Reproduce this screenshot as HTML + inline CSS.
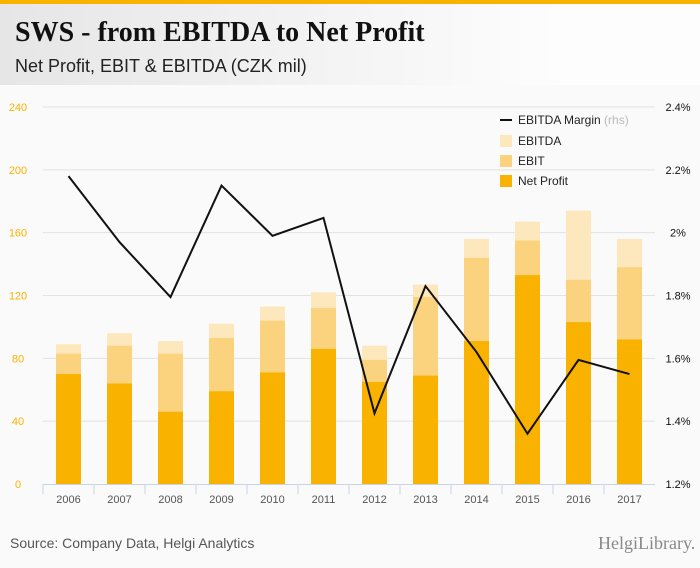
<!DOCTYPE html>
<html><head><meta charset="utf-8"><style>
body{margin:0;width:700px;height:568px;overflow:hidden;background:#fafafa;font-family:"Liberation Sans",sans-serif}
#hdr{position:absolute;left:0;top:0;width:700px;height:85px;background:linear-gradient(90deg,#e6e6e6,#fdfdfd 80%);border-top:4px solid #f9b200;box-sizing:border-box}
#title{position:absolute;left:15px;top:13px;font-family:"Liberation Serif",serif;font-weight:bold;font-size:28px;color:#111}
#sub{position:absolute;left:15px;top:52px;font-size:18px;color:#222}
#src{position:absolute;left:10px;top:535px;font-size:14px;color:#555}
#logo{position:absolute;left:598px;top:533px;font-size:18px;color:#888;font-family:"Liberation Serif",serif}
</style></head><body>
<div id="hdr">
<div id="title">SWS - from EBITDA to Net Profit</div>
<div id="sub">Net Profit, EBIT &amp; EBITDA (CZK mil)</div>
</div>
<svg id="c" width="700" height="568" style="position:absolute;left:0;top:0"></svg>
<div id="src">Source: Company Data, Helgi Analytics</div>
<div id="logo">HelgiLibrary.</div>
<script>
const years=["2006","2007","2008","2009","2010","2011","2012","2013","2014","2015","2016","2017"];
const netProfit=[70,64,46,59,71,86,65,69,91,133,103,92];
const ebit=[83,88,83,93,104,112,79,119,144,155,130,138];
const ebitda=[89,96,91,102,113,122,88,127,156,167,174,156];
const margin=[2.18,1.97,1.795,2.15,1.99,2.047,1.425,1.83,1.62,1.36,1.595,1.55];
const leftTicks=[0,40,80,120,160,200,240];
const rightTicks=[1.2,1.4,1.6,1.8,2.0,2.2,2.4];
const rightLabels=["1.2%","1.4%","1.6%","1.8%","2%","2.2%","2.4%"];
const svg=document.getElementById('c'),NS="http://www.w3.org/2000/svg";
const X0=43,X1=655,Y0=484,Y1=107,bw=(X1-X0)/years.length;
const y=v=>Y0-(v/240)*(Y0-Y1);
const yr=v=>Y0-((v-1.2)/1.2)*(Y0-Y1);
const xc=i=>X0+bw*(i+0.5);
function mk(t,a,txt){const e=document.createElementNS(NS,t);for(const k in a)e.setAttribute(k,a[k]);if(txt!==undefined)e.textContent=txt;svg.appendChild(e);return e;}
leftTicks.forEach((t,i)=>{
 if(t>0){const g=mk('line',{x1:X0,x2:X1,y1:y(t),y2:y(t),stroke:'#e2e2e2'});
 
 }
 const l=mk('text',{x:18,y:y(t)+4,'font-size':11,fill:'#f9b200','text-anchor':'middle'},t);
 
 
});
rightTicks.forEach((t,i)=>{
 const l=mk('text',{x:678,y:yr(t)+4,'font-size':11,fill:'#111','text-anchor':'middle'},rightLabels[i]);
 
 
});
const ax=mk('line',{x1:X0,x2:X1,y1:Y0+0.5,y2:Y0+0.5,stroke:'#c8d4e6'});


years.forEach((yv,i)=>{
 const tk=mk('line',{x1:X0+bw*i,x2:X0+bw*i,y1:Y0,y2:Y0+10,stroke:'#c8d4e6'});
 
 
 const l=mk('text',{x:xc(i),y:Y0+19,'font-size':11,fill:'#555','text-anchor':'middle'},yv);
 
 
 [[ebitda,'#fde8bd','bar-ebitda'],[ebit,'#fbd37f','bar-ebit'],[netProfit,'#f9b200','bar-net-profit']].forEach(([arr,c,n])=>{
  const r=mk('rect',{x:xc(i)-12.5,y:y(arr[i]),width:25,height:Y0-y(arr[i]),fill:c});
  
  
 });
});
const pl=mk('polyline',{points:margin.map((m,i)=>xc(i)+','+yr(m)).join(' '),fill:'none',stroke:'#111','stroke-width':2});


const lg=[['line','#111','EBITDA Margin',120],['rect','#fde8bd','EBITDA',141],['rect','#fbd37f','EBIT',161],['rect','#f9b200','Net Profit',181]];
lg.forEach(([t,c,n,yy])=>{
 const s=t==='line'?mk('rect',{x:500,y:yy-1,width:12,height:2,fill:c}):mk('rect',{x:500,y:yy-6,width:12,height:12,fill:c});
 
 
 const tx=mk('text',{x:518,y:yy+4,'font-size':12,fill:'#222'},n);
 
 
 if(t==='line'){const r=document.createElementNS(NS,'tspan');r.setAttribute('fill','#bbb');r.textContent=' (rhs)';tx.appendChild(r);}
});
</script>
</body></html>
